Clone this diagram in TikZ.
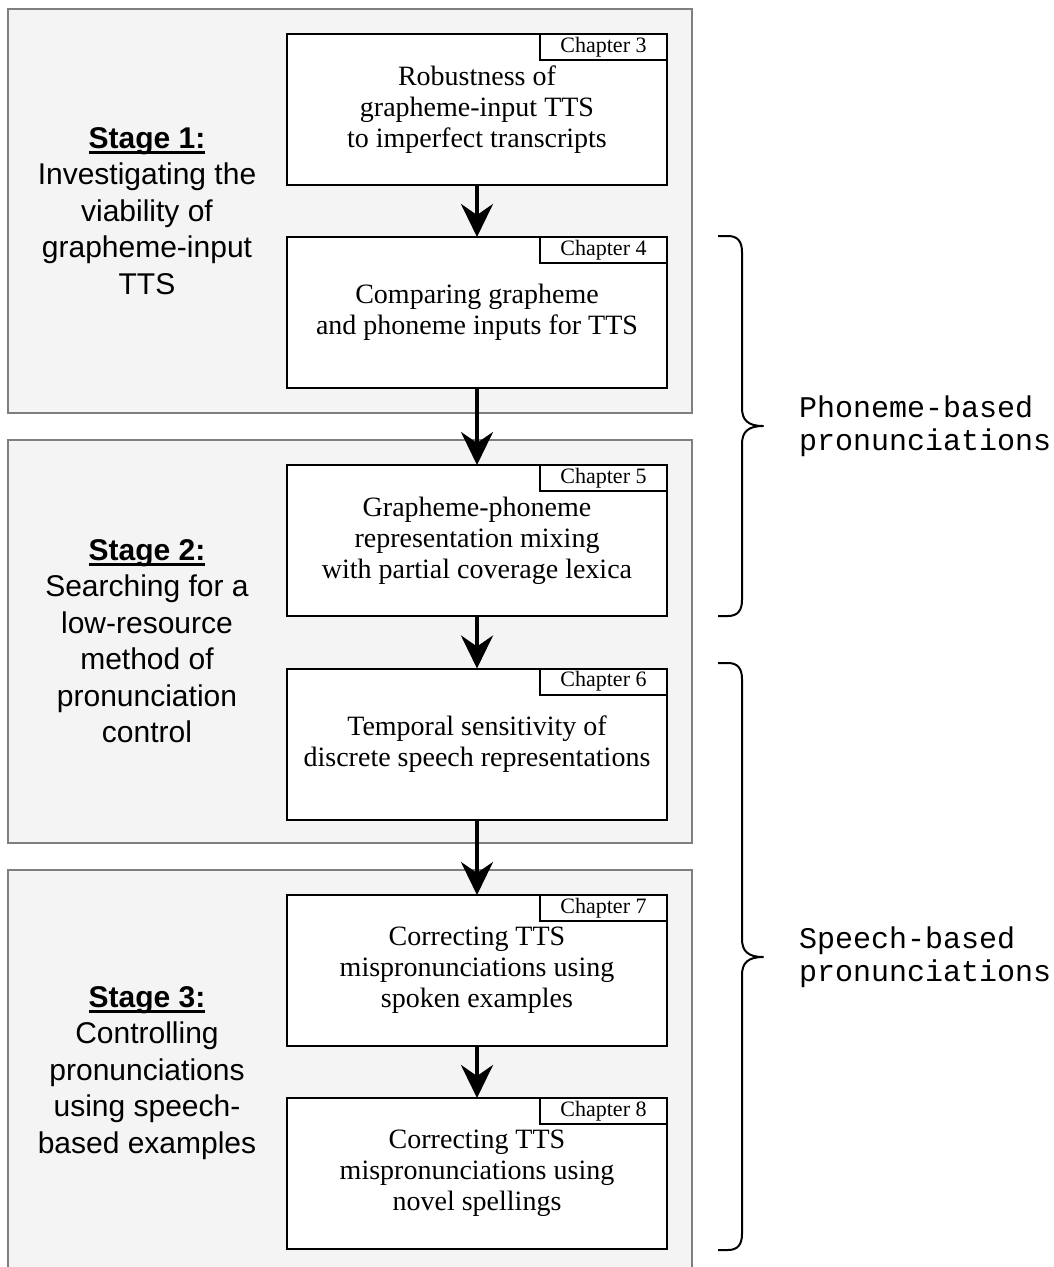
\documentclass[tikz,border=0pt]{standalone}
\usepackage{fontspec}
\setmainfont{Liberation Serif}
\newfontfamily\stagesans{Liberation Sans}
\newfontfamily\bracemono{Liberation Mono}
\usetikzlibrary{arrows.meta}
\definecolor{panelgray}{HTML}{7F7F7F}
\definecolor{panelfill}{HTML}{F4F4F4}
% bold heading with a solid underline
\newcommand\stagehead[1]{\setbox0\hbox{\bfseries #1}\rlap{\rule[-5.5pt]{\wd0}{2.4pt}}\box0}

\begin{document}
\begin{tikzpicture}[x=1pt,y=-1pt,
  panel/.style={draw=panelgray, line width=2.6pt, fill=panelfill,
    minimum width=684pt, inner sep=0pt, outer sep=0pt},
  chapbox/.style={draw=black, line width=2pt, fill=white,
    minimum width=380pt, minimum height=151pt, inner sep=0pt, outer sep=0pt,
    align=center, font=\fontsize{28}{31}\selectfont},
  chaptag/.style={draw=black, line width=2pt, fill=white,
    minimum width=127pt, minimum height=26pt, inner sep=0pt, outer sep=0pt,
    anchor=north east, font=\fontsize{22}{24}\selectfont},
  stagelabel/.style={align=center, inner sep=0pt,
    font=\stagesans\fontsize{30}{36.5}\selectfont},
  flow/.style={line width=4pt, -{Stealth[length=33pt,width=32pt,inset=11pt]}},
  bracestroke/.style={line width=2pt, line join=round},
  grouplabel/.style={anchor=west, align=left, inner sep=0pt,
    font=\bracemono\fontsize{30}{32.5}\selectfont}]

\clip (0,0) rectangle (1054,1267);

% stage panels
\node[panel, minimum height=404pt] (p1) at (350,211) {};
\node[panel, minimum height=403pt] (p2) at (350,641.5) {};
\node[panel, minimum height=404pt] (p3) at (350,1072) {};

% stage descriptions
\node[stagelabel] (s1) at (147,211) {\stagehead{Stage 1:}\\Investigating the\\viability of\\grapheme-input\\TTS};
\node[stagelabel] (s2) at (147,641) {\stagehead{Stage 2:}\\Searching for a\\low-resource\\method of\\pronunciation\\control};
\node[stagelabel] (s3) at (147,1073) {\stagehead{Stage 3:}\\Controlling\\pronunciations\\using speech-\\based examples};

% chapters
\node[chapbox] (b3) at (477,109.5) {Robustness of\\grapheme-input TTS\\to imperfect transcripts};
\node[chapbox] (b4) at (477,312.5) {Comparing grapheme\\and phoneme inputs for TTS};
\node[chapbox] (b5) at (477,540.5) {Grapheme-phoneme\\representation mixing\\with partial coverage lexica};
\node[chapbox] (b6) at (477,744) {Temporal sensitivity of\\discrete speech representations};
\node[chapbox] (b7) at (477,970.5) {Correcting TTS\\mispronunciations using\\spoken examples};
\node[chapbox] (b8) at (477,1173.5) {Correcting TTS\\mispronunciations using\\novel spellings};

\node[chaptag] (t3) at (b3.north east) {Chapter 3};
\node[chaptag] (t4) at (b4.north east) {Chapter 4};
\node[chaptag] (t5) at (b5.north east) {Chapter 5};
\node[chaptag] (t6) at (b6.north east) {Chapter 6};
\node[chaptag] (t7) at (b7.north east) {Chapter 7};
\node[chaptag] (t8) at (b8.north east) {Chapter 8};

% reading order
\draw[flow] (b3) -- (b4);
\draw[flow] (b4) -- (b5);
\draw[flow] (b5) -- (b6);
\draw[flow] (b6) -- (b7);
\draw[flow] (b7) -- (b8);

% groupings on the right
\draw[bracestroke] (718,236) -- (728,236) .. controls (738,236) and (742,242) .. (742,252)
  -- (742,408) .. controls (742,420) and (748,426) .. (763,426)
  .. controls (748,426) and (742,432) .. (742,444)
  -- (742,600) .. controls (742,610) and (738,616) .. (728,616) -- (718,616);
\draw[bracestroke] (718,663) -- (728,663) .. controls (738,663) and (742,669) .. (742,679)
  -- (742,939) .. controls (742,951) and (748,957) .. (763,957)
  .. controls (748,957) and (742,963) .. (742,975)
  -- (742,1234) .. controls (742,1244) and (738,1250) .. (728,1250) -- (718,1250);

\node[grouplabel] (g1) at (799,426) {Phoneme-based\\pronunciations};
\node[grouplabel] (g2) at (799,957) {Speech-based\\pronunciations};
\end{tikzpicture}
\end{document}
